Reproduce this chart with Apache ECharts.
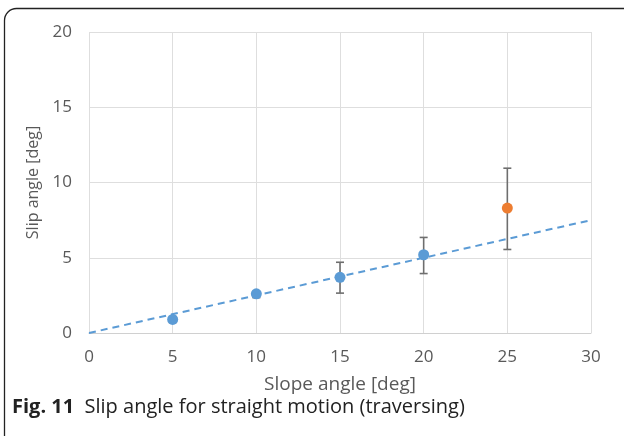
<!DOCTYPE html>
<html><head><meta charset="utf-8">
<script src="https://cdn.jsdelivr.net/npm/echarts@6/dist/echarts.min.js"></script>
<style>html,body{margin:0;padding:0;background:#fff}#c{width:624px;height:436px}</style>
</head><body><div id="c"></div>
<script>
// Data
const slopeAngles = [5, 10, 15, 20];
const slipAngles = [0.9, 2.6, 3.7, 5.2];
const slipLow = [0.7, 2.35, 2.65, 3.95];
const slipHigh = [1.0, 2.75, 4.7, 6.35];
const outlierX = [25];
const outlierY = [8.3];
const outlierLow = [5.55];
const outlierHigh = [10.95];
const trendX = [0, 30];
const trendY = [0, 7.5];
const xTicks = [0, 5, 10, 15, 20, 25, 30];
const yTicks = [0, 5, 10, 15, 20];

const FONT = '"Open Sans", sans-serif';
const chart = echarts.init(document.getElementById('c'), null, {renderer: 'canvas'});

const errData = slopeAngles.map((x, i) => [x, slipLow[i], slipHigh[i]])
  .concat(outlierX.map((x, i) => [x, outlierLow[i], outlierHigh[i]]));

function renderErr(params, api) {
  const x = api.value(0);
  const lo = api.coord([x, api.value(1)]);
  const hi = api.coord([x, api.value(2)]);
  const w = 4;
  const st = {stroke: '#6e6e6e', lineWidth: 1.6};
  return {type: 'group', children: [
    {type: 'line', shape: {x1: lo[0], y1: lo[1], x2: hi[0], y2: hi[1]}, style: st},
    {type: 'line', shape: {x1: lo[0]-w, y1: lo[1], x2: lo[0]+w, y2: lo[1]}, style: st},
    {type: 'line', shape: {x1: hi[0]-w, y1: hi[1], x2: hi[0]+w, y2: hi[1]}, style: st}
  ]};
}

chart.setOption({
  animation: false,
  grid: {left: 89, right: 33, top: 32, bottom: 103},
  xAxis: {
    type: 'value', min: xTicks[0], max: xTicks[xTicks.length-1], interval: 5,
    name: 'Slope angle [deg]', nameLocation: 'middle', nameGap: 42,
    nameTextStyle: {fontFamily: FONT, fontSize: 19, color: '#595959'},
    axisLine: {show: true, lineStyle: {color: '#d0d0d0', width: 1}},
    axisTick: {show: false},
    axisLabel: {fontFamily: FONT, fontSize: 17, color: '#595959', margin: 16},
    splitLine: {show: true, lineStyle: {color: '#dedede', width: 1}}
  },
  yAxis: {
    type: 'value', min: yTicks[0], max: yTicks[yTicks.length-1], interval: 5,
    name: 'Slip angle [deg]', nameLocation: 'middle', nameGap: 40,
    nameTextStyle: {fontFamily: FONT, fontSize: 16, color: '#595959'},
    axisLine: {show: false},
    axisTick: {show: false},
    axisLabel: {fontFamily: FONT, fontSize: 17, color: '#595959', margin: 17},
    splitLine: {show: true, lineStyle: {color: '#dedede', width: 1}}
  },
  series: [
    {type: 'line', data: trendX.map((x, i) => [x, trendY[i]]), symbol: 'none',
     lineStyle: {color: '#5b9bd5', width: 2, type: [7, 5]}, z: 2},
    {type: 'custom', renderItem: renderErr, data: errData, z: 3},
    {type: 'scatter', data: slopeAngles.map((x, i) => [x, slipAngles[i]]),
     symbol: 'circle', symbolSize: 11, itemStyle: {color: '#5b9bd5', opacity: 1}, z: 4},
    {type: 'scatter', data: outlierX.map((x, i) => [x, outlierY[i]]),
     symbol: 'circle', symbolSize: 11, itemStyle: {color: '#ed7d31', opacity: 1}, z: 4}
  ],
  graphic: [
    {type: 'rect', shape: {x: 4.5, y: 8.5, width: 640, height: 440, r: 12},
     style: {fill: 'none', stroke: '#222', lineWidth: 1.3}, silent: true},
    {type: 'text', left: 12, top: 397,
     style: {text: '{b|Fig. 11}  Slip angle for straight motion (traversing)',
       rich: {b: {fontFamily: FONT, fontSize: 20, fontWeight: 'bold', fill: '#222'}},
       fontFamily: FONT, fontSize: 20, fill: '#222'}}
  ]
});
</script></body></html>
